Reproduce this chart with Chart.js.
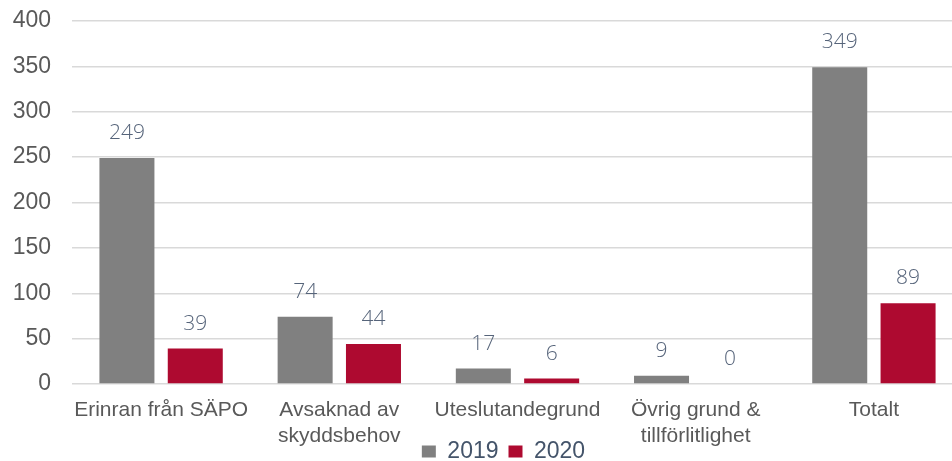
<!DOCTYPE html>
<html>
<head>
<meta charset="utf-8">
<script src="https://cdn.jsdelivr.net/npm/chart.js@4.4.1/dist/chart.umd.min.js"></script>
<style>
  html, body { margin: 0; padding: 0; background: #fff; overflow: hidden; }
  #wrap { width: 1007px; height: 461px; }
</style>
</head>
<body>
<div id="wrap"><canvas id="chart" width="1007" height="461"></canvas></div>
<script>
// categories and values
const categories = [
    'Erinran från SÄPO',
    ['Avsaknad av', 'skyddsbehov'],
    'Uteslutandegrund',
    ['Övrig grund &', 'tillförlitlighet'],
    'Totalt'
];
const values2019 = [249, 74, 17, 9, 349];
const values2020 = [39, 44, 6, 0, 89];
const seriesNames = ['2019', '2020'];
const yTicks = { min: 0, max: 400, step: 50 };

// value labels above each bar, positioned from the bar elements
const barValueLabels = {
    id: 'barValueLabels',
    afterDatasetsDraw(chart) {
        const ctx = chart.ctx;
        ctx.save();
        ctx.font = '300 21px "Open Sans", "Lato", sans-serif';
        ctx.fillStyle = '#56647a';
        ctx.textAlign = 'center';
        ctx.textBaseline = 'middle';
        chart.data.datasets.forEach((ds, i) => {
            chart.getDatasetMeta(i).data.forEach((bar, j) => {
                ctx.fillText(String(ds.data[j]), bar.x, bar.y - 25);
            });
        });
        ctx.restore();
    }
};

new Chart(document.getElementById('chart'), {
    type: 'bar',
    data: {
        labels: categories,
        datasets: [
            {
                label: seriesNames[0],
                data: values2019,
                backgroundColor: '#808080',
                categoryPercentage: 0.767,
                barPercentage: 0.805
            },
            {
                label: seriesNames[1],
                data: values2020,
                backgroundColor: '#ae0a30',
                categoryPercentage: 0.767,
                barPercentage: 0.805
            }
        ]
    },
    options: {
        responsive: false,
        animation: false,
        // legend sits partly below the canvas edge so it lines up with the second label row
        layout: { padding: { top: 21, left: 0, right: 0, bottom: -12 } },
        plugins: {
            tooltip: { enabled: false },
            legend: {
                position: 'bottom',
                labels: {
                    boxWidth: 14,
                    boxHeight: 12,
                    padding: 10,
                    color: '#44546a',
                    font: { family: '"Liberation Sans", Arial, sans-serif', size: 23 }
                }
            }
        },
        scales: {
            x: {
                grid: { display: false },
                border: { display: false },
                ticks: {
                    color: '#595959',
                    padding: 5,
                    maxRotation: 0,
                    autoSkip: false,
                    font: { family: '"Liberation Sans", Arial, sans-serif', size: 21, lineHeight: 1.25 }
                },
                afterFit: s => {
                    s.height = 46;
                    s._computeLabelArea = () => undefined; // don't clip the 2nd label line
                }
            },
            y: {
                min: yTicks.min,
                max: yTicks.max,
                grid: { color: '#d9d9d9', lineWidth: 1.5, drawTicks: false },
                border: { display: false },
                ticks: {
                    stepSize: yTicks.step,
                    color: '#595959',
                    padding: 21,
                    font: { family: '"Liberation Sans", Arial, sans-serif', size: 23 }
                },
                afterFit: s => {
                    s.width = 72;
                    s.paddingTop = 0;
                    s.paddingBottom = 0;
                }
            },
            // empty right axis so the plot runs past the window edge like the source crop
            yRight: {
                position: 'right',
                display: true,
                grid: { display: false },
                border: { display: false },
                ticks: { display: false },
                afterFit: s => {
                    s.width = 44;
                    s.paddingTop = 0;
                    s.paddingBottom = 0;
                }
            }
        }
    },
    plugins: [barValueLabels]
});
</script>
</body>
</html>
